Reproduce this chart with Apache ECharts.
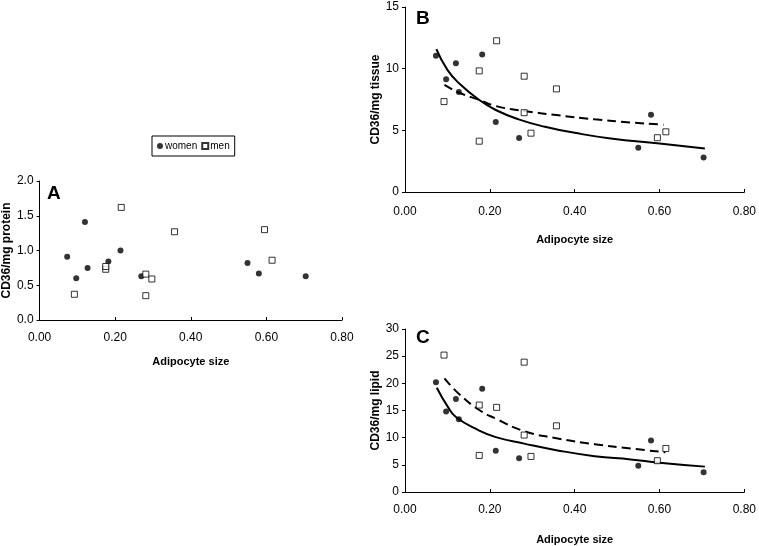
<!DOCTYPE html>
<html>
<head>
<meta charset="utf-8">
<title>CD36 vs adipocyte size</title>
<script src="https://cdn.jsdelivr.net/npm/echarts@6/dist/echarts.min.js"></script>
<style>
html, body { margin: 0; padding: 0; background: #fff; }
#main { width: 759px; height: 546px; }
</style>
</head>
<body>
<div id="main"></div>
<script>
// adipocyte size of each subject
var womenSize = [0.073, 0.097, 0.120, 0.127, 0.182, 0.214, 0.269, 0.550, 0.580, 0.704];
var menSize = [0.092, 0.175, 0.175, 0.216, 0.281, 0.281, 0.297, 0.357, 0.595, 0.615];

// panel A: CD36 / mg protein
var womenProtein = [0.91, 0.60, 1.41, 0.75, 0.84, 1.00, 0.63, 0.82, 0.67, 0.63];
var menProtein = [0.37, 0.73, 0.77, 1.62, 0.66, 0.35, 0.59, 1.27, 1.30, 0.86];

// panel B: CD36 / mg tissue
var womenTissue = [11.04, 9.14, 10.44, 8.11, 11.15, 5.67, 4.37, 3.58, 6.27, 2.79];
var menTissue = [7.33, 9.82, 4.12, 12.26, 9.39, 6.43, 4.77, 8.36, 4.40, 4.88];

// panel C: CD36 / mg lipid
var womenLipid = [20.2, 14.8, 17.1, 13.4, 19.0, 7.6, 6.2, 4.85, 9.5, 3.64];
var menLipid = [25.2, 16.0, 6.73, 15.58, 23.9, 10.48, 6.55, 12.18, 5.76, 8.0];

// trend lines
var trendWomenTissueX = [0.074, 0.100, 0.128, 0.175, 0.214, 0.268, 0.330, 0.400, 0.485, 0.600, 0.707];
var trendWomenTissueY = [11.58, 9.9, 8.8, 7.46, 6.65, 5.89, 5.29, 4.80, 4.34, 3.93, 3.53];
var trendMenTissueX = [0.093, 0.128, 0.175, 0.214, 0.281, 0.357, 0.447, 0.532, 0.600, 0.610];
var trendMenTissueY = [8.68, 8.05, 7.46, 6.97, 6.57, 6.24, 5.89, 5.64, 5.48, 5.45];
var trendWomenLipidX = [0.075, 0.100, 0.120, 0.175, 0.214, 0.281, 0.357, 0.447, 0.532, 0.600, 0.707];
var trendWomenLipidY = [19.2, 15.8, 13.8, 11.3, 10.1, 8.9, 7.7, 6.6, 6.0, 5.4, 4.67];
var trendMenLipidX = [0.093, 0.128, 0.175, 0.214, 0.281, 0.357, 0.447, 0.532, 0.614];
var trendMenLipidY = [20.9, 18.0, 15.1, 13.5, 11.2, 9.9, 8.8, 8.0, 7.3];

function pairs(xs, ys) {
    var out = [];
    for (var i = 0; i < xs.length; i++) out.push([xs[i], ys[i]]);
    return out;
}

var tickFont = 'Liberation Sans Narrow, Arial Narrow, Arial, sans-serif';
var boldFont = 'Liberation Sans, Arial, sans-serif';

function xAxisFor(idx, gap, margin) {
    return {
        gridIndex: idx, type: 'value', min: 0, max: 0.8, interval: 0.2,
        name: 'Adipocyte size', nameLocation: 'middle', nameGap: gap,
        nameTextStyle: { fontFamily: boldFont, fontWeight: 'bold', fontSize: 11, color: '#000' },
        axisLine: { lineStyle: { color: '#000', width: 1 } },
        axisTick: { inside: true, length: 3, lineStyle: { color: '#000' } },
        axisLabel: { margin: margin, fontFamily: tickFont, fontSize: 12, color: '#000',
            formatter: function (v) { return v.toFixed(2); } },
        splitLine: { show: false }
    };
}

function yAxisFor(idx, max, interval, name, digits, gap) {
    return {
        gridIndex: idx, type: 'value', min: 0, max: max, interval: interval,
        name: name, nameLocation: 'middle', nameGap: gap, nameRotate: 90,
        nameTextStyle: { fontFamily: boldFont, fontWeight: 'bold', fontSize: 12, color: '#000' },
        axisLine: { show: true, lineStyle: { color: '#000', width: 1 } },
        axisTick: { show: true, length: 3, lineStyle: { color: '#000' } },
        axisLabel: { margin: 6, fontFamily: tickFont, fontSize: 12, color: '#000',
            formatter: function (v) { return v.toFixed(digits); } },
        splitLine: { show: false }
    };
}

function womenSeries(idx, ys) {
    return {
        name: 'women', type: 'scatter', xAxisIndex: idx, yAxisIndex: idx,
        symbol: 'circle', symbolSize: 6,
        itemStyle: { color: '#000' },
        data: pairs(womenSize, ys)
    };
}

function menSeries(idx, ys) {
    return {
        name: 'men', type: 'scatter', xAxisIndex: idx, yAxisIndex: idx,
        symbol: 'rect', symbolSize: 6,
        itemStyle: { color: '#fff', borderColor: '#000', borderWidth: 1 },
        data: pairs(menSize, ys)
    };
}

function trend(idx, xs, ys, dashed) {
    return {
        type: 'line', xAxisIndex: idx, yAxisIndex: idx, smooth: true,
        showSymbol: false, silent: true, z: 1,
        lineStyle: { color: '#000', width: 2, type: dashed ? [9, 5] : 'solid' },
        data: pairs(xs, ys)
    };
}

var chart = echarts.init(document.getElementById('main'));
var option = {
    animation: false,
    backgroundColor: '#fff',
    legend: {
        data: ['women', 'men'],
        left: 152, top: 136,
        orient: 'horizontal',
        itemWidth: 6, itemHeight: 6, itemGap: 4,
        padding: [5, 5],
        borderColor: '#000', borderWidth: 1,
        textStyle: { fontFamily: 'Liberation Sans, Arial, sans-serif', fontSize: 10, color: '#000', padding: [0, 0, 0, -3] }
    },
    grid: [
        { left: 36, top: 181, width: 306, height: 139 },
        { left: 405, top: 7, width: 343, height: 185 },
        { left: 405, top: 329, width: 343, height: 165 }
    ],
    xAxis: [
        xAxisFor(0, 36, 12),
        xAxisFor(1, 42, 14),
        xAxisFor(2, 42, 12)
    ],
    yAxis: [
        yAxisFor(0, 2.0, 0.5, 'CD36/mg protein', 1, 24),
        yAxisFor(1, 15, 5, 'CD36/mg tissue', 0, 17),
        yAxisFor(2, 30, 5, 'CD36/mg lipid', 0, 17)
    ],
    graphic: [
        { type: 'text', left: 47, top: 184, style: { text: 'A', font: 'bold 19px Liberation Sans, Arial, sans-serif', fill: '#000' } },
        { type: 'text', left: 416, top: 9, style: { text: 'B', font: 'bold 19px Liberation Sans, Arial, sans-serif', fill: '#000' } },
        { type: 'text', left: 416, top: 328, style: { text: 'C', font: 'bold 19px Liberation Sans, Arial, sans-serif', fill: '#000' } }
    ],
    series: [
        womenSeries(0, womenProtein),
        menSeries(0, menProtein),
        trend(1, trendWomenTissueX, trendWomenTissueY, false),
        trend(1, trendMenTissueX, trendMenTissueY, true),
        womenSeries(1, womenTissue),
        menSeries(1, menTissue),
        trend(2, trendWomenLipidX, trendWomenLipidY, false),
        trend(2, trendMenLipidX, trendMenLipidY, true),
        womenSeries(2, womenLipid),
        menSeries(2, menLipid)
    ]
};
chart.setOption(option);
</script>
</body>
</html>
